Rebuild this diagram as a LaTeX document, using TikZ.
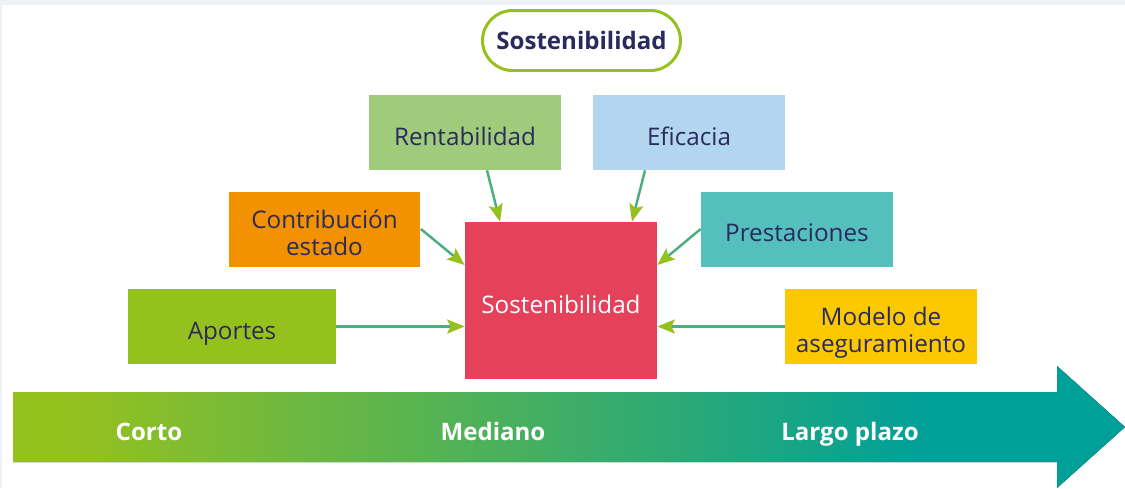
\documentclass[tikz,border=0pt]{standalone}
\usepackage{fontspec}
\setmainfont{Open Sans}
\usepackage{tikz}
\usetikzlibrary{arrows.meta}
\definecolor{navy}{HTML}{2B2A5C}
\definecolor{bggray}{HTML}{EEF2F5}
\definecolor{limegreen}{HTML}{95C11F}
\definecolor{sagegreen}{HTML}{A0CB7A}
\definecolor{skyblue}{HTML}{B3D6F0}
\definecolor{orangebox}{HTML}{F39200}
\definecolor{tealbox}{HTML}{55BFBD}
\definecolor{yellowbox}{HTML}{FCC800}
\definecolor{redbox}{HTML}{E5415A}
\definecolor{tealdark}{HTML}{00A099}
\definecolor{connc}{HTML}{4AAE7E}
\pgfdeclarehorizontalshading{timeline}{100bp}{color(0bp)=(limegreen); color(27.5bp)=(limegreen);
  color(66bp)=(tealdark); color(100bp)=(tealdark)}

\begin{document}
\begin{tikzpicture}[x=0.02cm,y=-0.02cm,>={Stealth[length=10pt,width=8pt,inset=2pt,color=limegreen]},
  box/.style={rectangle,minimum width=3.84cm,minimum height=1.5cm,inner sep=0pt,
    text=navy,align=center,font=\fontsize{13.8}{15.2}\selectfont,
    text height=0.508cm,text depth=0pt},
  twoline/.style={text height=1.04cm,text depth=0pt},
  phase/.style={text=white,font=\fontsize{13.7}{15}\selectfont\bfseries,
    text height=0.36cm,text depth=0pt,inner sep=0pt},
  conn/.style={->,line width=1.4pt,draw=connc}]

\useasboundingbox (0,0) rectangle (1125,488);
\fill[bggray] (0,0) rectangle (1125,488);
\fill[white] (2,5) rectangle (1125,488);

% title
\node[rectangle,rounded corners=0.6cm,draw=limegreen,line width=1.7pt,fill=white,
  minimum width=3.96cm,minimum height=1.2cm,text=navy,
  font=\fontsize{13.7}{15}\selectfont\bfseries] (title) at (581.5,40.5) {Sostenibilidad};

% factors
\node[box,fill=sagegreen] (rent) at (465,132.5) {Rentabilidad};
\node[box,fill=skyblue] (efic) at (689,132.5) {Eficacia};
\node[box,twoline,fill=orangebox] (contrib) at (324.5,229) {Contribución\\estado};
\node[box,fill=tealbox] (prest) at (797,229) {Prestaciones};
\node[box,fill=limegreen,minimum width=4.16cm] (aport) at (232,326.5) {Aportes};
\node[box,twoline,fill=yellowbox] (modelo) at (881,326.5) {Modelo de\\aseguramiento};

% centre
\node[box,fill=redbox,minimum height=3.14cm,text=white] (sost) at (561,300.5) {Sostenibilidad};

\draw[conn] ([xshift=0.44cm]rent.south) -- ([xshift=-1.22cm]sost.north);
\draw[conn] ([xshift=-0.88cm]efic.south) -- ([xshift=1.42cm]sost.north);
\draw[conn] (contrib.east) -- ([yshift=0.71cm]sost.west);
\draw[conn] (prest.west) -- ([yshift=0.71cm]sost.east);
\draw[conn] (aport.east) -- (sost.west |- aport.east);
\draw[conn] (modelo.west) -- (sost.east |- modelo.west);

% time arrow
\fill[shading=timeline]
  (13,392) -- (1057,392) -- (1057,366) -- (1125,427) -- (1057,488) -- (1057,462) -- (13,462) -- cycle;
\node[phase] (corto) at (149,431) {Corto};
\node[phase] (mediano) at (493,431) {Mediano};
\node[phase] (largo) at (850,431) {Largo plazo};
\end{tikzpicture}
\end{document}
